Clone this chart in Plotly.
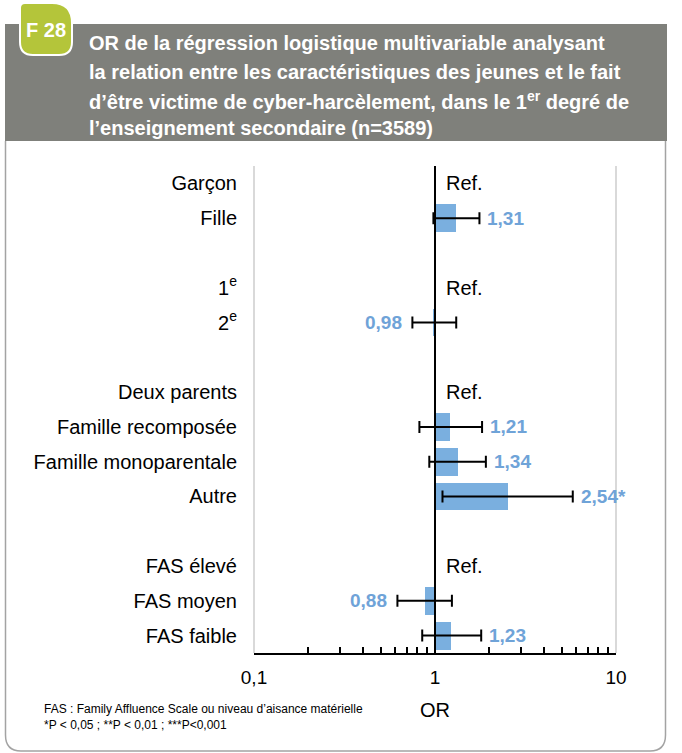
import math
import plotly.graph_objects as go

# ---- data -----------------------------------------------------------------
labels = ["Garçon", "Fille", "1<sup>e</sup>", "2<sup>e</sup>",
          "Deux parents", "Famille recomposée", "Famille monoparentale", "Autre",
          "FAS élevé", "FAS moyen", "FAS faible"]
groups = [0, 0, 1, 1, 2, 2, 2, 2, 3, 3, 3]
odds_ratio = [None, 1.31, None, 0.98, None, 1.21, 1.34, 2.54, None, 0.88, 1.23]
ci_low = [None, 0.98, None, 0.75, None, 0.82, 0.93, 1.10, None, 0.62, 0.85]
ci_high = [None, 1.76, None, 1.31, None, 1.82, 1.91, 5.77, None, 1.24, 1.80]
signif = ["", "", "", "", "", "", "", "*", "", "", ""]

axis_ticks = [0.1, 1, 10]
axis_ticktext = ["0,1", "1", "10"]

title_lines = ["OR de la régression logistique multivariable analysant",
               "la relation entre les caractéristiques des jeunes et le fait",
               "d’être victime de cyber-harcèlement, dans le 1<sup>er</sup> degré de",
               "l’enseignement secondaire (n=3589)"]
badge_text = "F 28"
footnote = ("FAS : Family Affluence Scale ou niveau d’aisance matérielle<br>"
            "*P &lt; 0,05 ; **P &lt; 0,01 ; ***P&lt;0,001")

# ---- styling --------------------------------------------------------------
FONT = "Liberation Sans, Arial, sans-serif"
BAR_COLOR = "#7aafdf"
VALUE_COLOR = "#6fa3d8"
HEADER_GREY = "#7f807b"
BADGE_GREEN = "#b4c53a"
FRAME_GREY = "#a3a3a3"
EDGE_GREY = "#d9d9d9"

W, H = 682, 753
L, R, T, B = 254, 616, 166, 653


def px(x):
    return (x - L) / (R - L)


def py(y):
    return (B - y) / (B - T)


# row position = index + one blank row between groups
ypos = [i + g for i, g in enumerate(groups)]
rows = [i for i, v in enumerate(odds_ratio) if v is not None]

fig = go.Figure()

fig.add_trace(go.Bar(
    orientation="h",
    y=[ypos[i] for i in rows],
    x=[odds_ratio[i] - 1 for i in rows],
    base=1,
    width=0.8,
    marker=dict(color=BAR_COLOR, line=dict(width=0)),
    hoverinfo="skip",
    showlegend=False,
))

fig.add_trace(go.Scatter(
    x=[odds_ratio[i] for i in rows],
    y=[ypos[i] for i in rows],
    mode="markers",
    marker=dict(size=2, color="rgba(0,0,0,0)"),
    error_x=dict(
        type="data", symmetric=False,
        array=[ci_high[i] - odds_ratio[i] for i in rows],
        arrayminus=[odds_ratio[i] - ci_low[i] for i in rows],
        color="black", thickness=2, width=6,
    ),
    hoverinfo="skip",
    showlegend=False,
))

annotations = []
for i, v in enumerate(odds_ratio):
    if v is None:
        annotations.append(dict(
            x=0, y=ypos[i], xref="x", yref="y", text="Ref.",
            xanchor="left", yanchor="middle", xshift=9, showarrow=False,
            font=dict(family=FONT, size=20, color="black"),
        ))
        continue
    txt = f"{v:.2f}".replace(".", ",") + signif[i]
    if v >= 1:
        annotations.append(dict(
            x=math.log10(ci_high[i]), y=ypos[i], xref="x", yref="y", text=f"<b>{txt}</b>",
            xanchor="left", yanchor="middle", xshift=6, showarrow=False,
            font=dict(family=FONT, size=19, color=VALUE_COLOR),
        ))
    else:
        annotations.append(dict(
            x=math.log10(ci_low[i]), y=ypos[i], xref="x", yref="y", text=f"<b>{txt}</b>",
            xanchor="right", yanchor="middle", xshift=-8, showarrow=False,
            font=dict(family=FONT, size=19, color=VALUE_COLOR),
        ))

# header title, one annotation per line for a looser line spacing
for k, line in enumerate(title_lines):
    annotations.append(dict(
        x=px(88), y=py(43 + 28.5 * k), xref="paper", yref="paper", text=f"<b>{line}</b>",
        xanchor="left", yanchor="middle", align="left", showarrow=False, borderpad=0,
        font=dict(family=FONT, size=20, color="white"),
    ))
# badge label
annotations.append(dict(
    x=px(46), y=py(30), xref="paper", yref="paper", text=f"<b>{badge_text}</b>",
    xanchor="center", yanchor="middle", showarrow=False,
    font=dict(family=FONT, size=20, color="white"),
))
# footnote
annotations.append(dict(
    x=px(42), y=py(717), xref="paper", yref="paper", text=footnote,
    xanchor="left", yanchor="middle", align="left", showarrow=False,
    font=dict(family=FONT, size=12, color="black"),
))

shapes = [
    # outer panel with rounded bottom corners
    dict(type="path", xref="paper", yref="paper", layer="below",
         path=(f"M {px(5.5)},{py(141)} L {px(5.5)},{py(735)} "
               f"Q {px(5.5)},{py(751)} {px(21)},{py(751)} "
               f"L {px(650)},{py(751)} Q {px(665.5)},{py(751)} {px(665.5)},{py(735)} "
               f"L {px(665.5)},{py(141)}"),
         line=dict(color=FRAME_GREY, width=1.5), fillcolor="white"),
    # grey header band
    dict(type="rect", xref="paper", yref="paper", layer="below",
         x0=px(5), x1=px(667), y0=py(141), y1=py(24),
         fillcolor=HEADER_GREY, line=dict(width=0)),
    # green badge
    dict(type="path", xref="paper", yref="paper", layer="above",
         path=(f"M {px(25)},{py(3)} L {px(52)},{py(3)} "
               f"Q {px(72)},{py(3)} {px(72)},{py(23)} "
               f"L {px(72)},{py(42)} Q {px(72)},{py(55)} {px(59)},{py(55)} "
               f"L {px(33)},{py(55)} Q {px(20)},{py(55)} {px(20)},{py(42)} "
               f"L {px(20)},{py(8)} Q {px(20)},{py(3)} {px(25)},{py(3)} Z"),
         fillcolor=BADGE_GREEN, line=dict(color="white", width=2)),
    # light plot-area side edges
    dict(type="line", xref="paper", yref="paper", x0=0, x1=0, y0=0, y1=1,
         line=dict(color=EDGE_GREY, width=2), layer="below"),
    dict(type="line", xref="paper", yref="paper", x0=1, x1=1, y0=0, y1=1,
         line=dict(color=EDGE_GREY, width=2), layer="below"),
    # reference line at OR = 1
    dict(type="line", xref="x", yref="paper", x0=1, x1=1, y0=0, y1=1,
         line=dict(color="black", width=2), layer="above"),
]

fig.update_layout(
    width=W, height=H, autosize=False,
    margin=dict(l=L, r=W - R, t=T, b=H - B, pad=0),
    paper_bgcolor="white", plot_bgcolor="white",
    showlegend=False,
    annotations=annotations,
    shapes=shapes,
    bargap=0,
    xaxis=dict(
        type="log", range=[-1, 1], automargin=False,
        tickvals=axis_ticks, ticktext=axis_ticktext,
        ticks="inside", ticklen=6, tickwidth=1.5, tickcolor="black",
        tickfont=dict(family=FONT, size=19, color="black"),
        ticklabelstandoff=6,
        showline=True, linecolor="black", linewidth=2,
        showgrid=False, zeroline=False,
        minor=dict(ticks="inside", ticklen=6, tickwidth=1.5, tickcolor="black",
                   tickvals=[m * 10 ** e for e in (-1, 0) for m in range(2, 10)],
                   showgrid=False),
        title=dict(text="OR", font=dict(family=FONT, size=20, color="black"), standoff=16),
        fixedrange=True,
    ),
    yaxis=dict(
        range=[13.5, -0.5], automargin=False,
        tickvals=ypos, ticktext=labels,
        tickfont=dict(family=FONT, size=20, color="black"),
        ticks="", showline=False, showgrid=False, zeroline=False,
        ticklabelstandoff=16,
        fixedrange=True,
    ),
)

fig.write_html("out.html")
